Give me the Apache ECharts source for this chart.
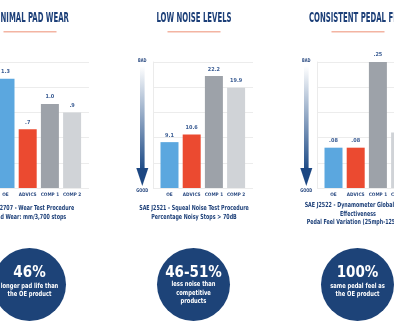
<!DOCTYPE html>
<html>
<head>
<meta charset="utf-8">
<script src="https://cdn.jsdelivr.net/npm/echarts@6/dist/echarts.min.js"></script>
<style>
  html, body { margin: 0; padding: 0; background: #ffffff; }
  #chart { width: 394px; height: 329px; }
</style>
</head>
<body>
<div id="chart"></div>
<script>
// Test results per product
const categories = ['OE', 'ADVICS', 'COMP 1', 'COMP 2'];
const padWear = [1.3, 0.7, 1.0, 0.9];          // mm / 3,700 stops
const noisyStops = [9.1, 10.6, 22.2, 19.9];    // % noisy stops > 70 dB
const pedalFeel = [0.08, 0.08, 0.25, 0.11];    // pedal feel variation

const titles = ['MINIMAL PAD WEAR', 'LOW NOISE LEVELS', 'CONSISTENT PEDAL FEEL'];
const captions = [
  ['SAE J2707 - Wear Test Procedure', 'Pad Wear: mm/3,700 stops'],
  ['SAE J2521 - Squeal Noise Test Procedure', 'Percentage Noisy Stops > 70dB'],
  ['SAE J2522 - Dynamometer Global Brake', 'Effectiveness', 'Pedal Feel Variation (25mph-125mph)']
];
const stats = ['46%', '46-51%', '100%'];
const statTexts = [
  ['longer pad life than', 'the OE product'],
  ['less noise than', 'competitive', 'products'],
  ['same pedal feel as', 'the OE product']
];
const axisMax = [1.5, 25, 0.25];
const axisStep = [0.3, 5, 0.05];
const labelDigits = [1, 1, 2];
const seriesValues = [padWear, noisyStops, pedalFeel];

const barColors = ['#5BA7DF', '#EB4A30', '#9DA2A9', '#D0D3D7'];
const NAVY = '#1C3F78';
const FONT = '"DejaVu Sans Condensed", "DejaVu Sans", sans-serif';

const chart = echarts.init(document.getElementById('chart'), null, { renderer: 'canvas' });

const grids = [], xAxes = [], yAxes = [], series = [], graphics = [];

function text(x, y, str, size, fill, sx, weight) {
  return {
    type: 'text', x: x, y: y, scaleX: sx, silent: true,
    style: {
      text: str, fill: fill,
      font: (weight || 'bold') + ' ' + size + 'px ' + FONT,
      align: 'center', verticalAlign: 'middle'
    }
  };
}

const PLOT_TOP = 62, PLOT_H = 126;

for (let p = 0; p < 3; p++) {
  const cx = 30 + p * 164;          // panel centre
  const dx = cx - 194;

  // frame grid: carries the horizontal guide lines
  grids.push({ left: 153 + dx, top: PLOT_TOP, width: 100, height: PLOT_H, outerBoundsMode: 'none' });
  // bar grid
  grids.push({ left: 158.4 + dx, top: PLOT_TOP, width: 88.8, height: PLOT_H, outerBoundsMode: 'none' });

  const gFrame = p * 2, gBars = p * 2 + 1;

  xAxes.push({ gridIndex: gFrame, type: 'category', data: categories, show: false });
  yAxes.push({
    gridIndex: gFrame, type: 'value', min: 0, max: axisMax[p], interval: axisStep[p],
    axisLabel: { show: false }, axisTick: { show: false },
    axisLine: { show: true, lineStyle: { color: '#EBEBEB', width: 1 } },
    splitLine: { show: true, lineStyle: { color: '#ECECEC', width: 1 } }
  });

  xAxes.push({
    gridIndex: gBars, type: 'category', data: categories,
    axisLine: { show: false }, axisTick: { show: false },
    axisLabel: {
      interval: 0, margin: 4, fontSize: 4.7, fontWeight: 'bold', color: '#2B4B82', fontFamily: FONT
    }
  });
  yAxes.push({
    gridIndex: gBars, type: 'value', min: 0, max: axisMax[p], interval: axisStep[p],
    show: false, splitLine: { show: false }
  });

  const digits = labelDigits[p];
  series.push({
    type: 'bar', xAxisIndex: gBars, yAxisIndex: gBars,
    data: seriesValues[p], barWidth: 18,
    itemStyle: { color: (prm) => barColors[prm.dataIndex] },
    label: {
      show: true, position: 'top', distance: 4,
      fontSize: 5.5, fontWeight: 'bold', color: '#3A5C93', fontFamily: FONT,
      formatter: (prm) => prm.value.toFixed(digits).replace(/^0\./, '.')
    }
  });

  // heading and underline
  graphics.push(text(cx, 18, titles[p], 14, NAVY, 0.55));
  graphics.push({
    type: 'rect', silent: true,
    shape: { x: cx - 26.5, y: 31, width: 53, height: 1.5 },
    style: { fill: '#F3B4A2' }
  });

  // BAD -> GOOD arrow
  const ax = 142.3 + dx;
  graphics.push(text(ax, 61, 'BAD', 5, '#2B4B82', 0.8));
  graphics.push({
    type: 'rect', silent: true,
    shape: { x: ax - 2.3, y: 66, width: 4.6, height: 104 },
    style: {
      fill: new echarts.graphic.LinearGradient(0, 0, 0, 1, [
        { offset: 0, color: '#FFFFFF' }, { offset: 1, color: '#1C4A86' }
      ])
    }
  });
  graphics.push({
    type: 'polygon', silent: true,
    shape: { points: [[ax - 6, 168], [ax + 6, 168], [ax, 186]] },
    style: { fill: '#1C4782' }
  });
  graphics.push(text(ax, 190.5, 'GOOD', 5, '#2B4B82', 0.8));

  // test procedure caption
  const capY = captions[p].length === 3 ? [205.5, 214, 222.5] : [208.3, 217];
  captions[p].forEach((line, i) => graphics.push(text(cx, capY[i], line, 7, NAVY, 0.76)));

  // result badge
  const ccx = 29.5 + p * 164;
  graphics.push({
    type: 'circle', silent: true,
    shape: { cx: ccx, cy: 284.5, r: 36.5 },
    style: { fill: '#1D4378' }
  });
  graphics.push(text(ccx, 273, stats[p], 15, '#FFFFFF', 1));
  const sy = statTexts[p].length === 3 ? [284.3, 292.8, 301.5] : [286, 294.5];
  statTexts[p].forEach((line, i) => graphics.push(text(ccx, sy[i], line, 7, '#FFFFFF', 0.82)));
}

chart.setOption({
  animation: false,
  backgroundColor: '#FFFFFF',
  grid: grids,
  xAxis: xAxes,
  yAxis: yAxes,
  series: series,
  graphic: { elements: graphics }
});
</script>
</body>
</html>
